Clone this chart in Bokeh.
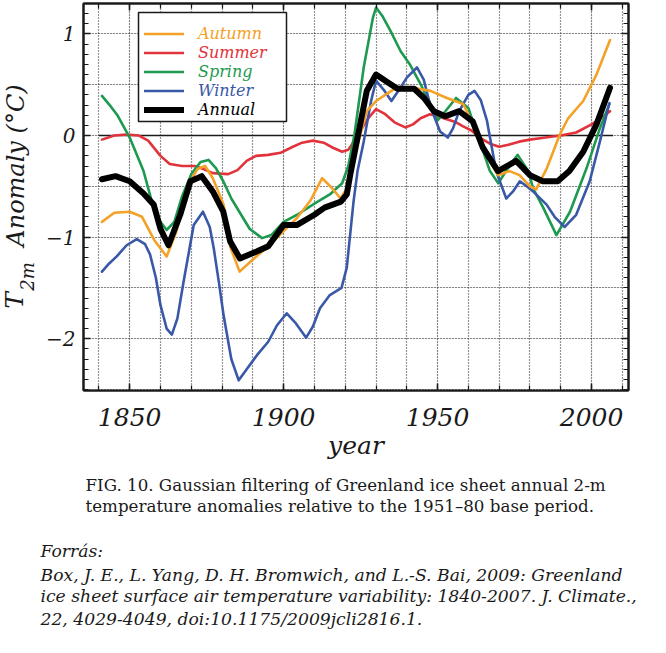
import math
from bokeh.plotting import figure
from bokeh.layouts import column, row
from bokeh.models import (SingleIntervalTicker, LinearAxis, Grid, Legend, LegendItem,
                          Range1d, CustomJSTickFormatter)
from bokeh.core.properties import value
from bokeh.embed import file_html
from bokeh.resources import INLINE

# ---------------- data ----------------
AUTUMN_YEARS = [1841, 1845, 1850, 1854, 1858, 1862, 1865, 1869.7, 1872, 1874.5, 1877,
                1880.5, 1882.7, 1885.7, 1890, 1895, 1900, 1904.4, 1908.7, 1912.5, 1915.2,
                1918.5, 1920.5, 1924, 1927, 1930, 1934, 1937, 1942, 1947.7, 1953, 1958.3,
                1962.6, 1965.8, 1969.6, 1973.4, 1976.6, 1980, 1982, 1985.5, 1989.7, 1992.4,
                1997.3, 2001.6, 2006]
AUTUMN_VALUES = [-0.85, -0.76, -0.75, -0.80, -1.03, -1.19, -0.96, -0.45, -0.33, -0.30, -0.42,
                 -0.68, -1.10, -1.34, -1.22, -1.09, -0.94, -0.81, -0.64, -0.42, -0.50,
                 -0.62, -0.52, -0.09, 0.24, 0.34, 0.42, 0.48, 0.47, 0.44, 0.37, 0.31,
                 0.04, -0.19, -0.39, -0.35, -0.39, -0.50, -0.53, -0.32, 0.01, 0.17,
                 0.34, 0.60, 0.94]

SUMMER_YEARS = [1841, 1845, 1849, 1853, 1856, 1860, 1863, 1867, 1871, 1874, 1877, 1882,
                1885, 1888, 1891, 1895, 1899, 1903, 1906, 1909.5, 1913, 1916, 1919, 1921,
                1923, 1925, 1927.5, 1930, 1933, 1936, 1939.5, 1942, 1944.5, 1947.5, 1950,
                1953, 1956, 1958.3, 1961, 1963.7, 1967, 1970, 1973, 1976.5, 1980, 1985,
                1990, 1995, 2000, 2003, 2006]
SUMMER_VALUES = [-0.04, 0.00, 0.01, 0.00, -0.05, -0.20, -0.28, -0.30, -0.30, -0.33, -0.37,
                 -0.38, -0.34, -0.25, -0.20, -0.19, -0.17, -0.11, -0.07, -0.05, -0.07,
                 -0.12, -0.16, -0.14, -0.05, 0.05, 0.17, 0.26, 0.21, 0.13, 0.08, 0.11,
                 0.17, 0.21, 0.19, 0.16, 0.13, 0.09, 0.05, -0.02, -0.08, -0.11, -0.09,
                 -0.06, -0.04, -0.02, 0.00, 0.03, 0.11, 0.17, 0.24]

SPRING_YEARS = [1841, 1843.5, 1846, 1850, 1854.5, 1857.2, 1860, 1862, 1864.5, 1867, 1870,
                1873, 1875.6, 1878, 1880.4, 1883, 1885.8, 1889, 1893, 1896, 1900, 1904.4,
                1910, 1915, 1919, 1921, 1923, 1926, 1929, 1930, 1932, 1934.7, 1938, 1941,
                1944.6, 1948, 1950, 1952, 1956, 1960, 1963.7, 1967, 1969.7, 1973.5, 1976,
                1979.5, 1981, 1984.3, 1988.6, 1993, 1998.4, 2002.7, 2005.8]
SPRING_VALUES = [0.39, 0.30, 0.20, -0.02, -0.35, -0.65, -0.85, -0.93, -0.85, -0.60, -0.38,
                 -0.26, -0.24, -0.32, -0.45, -0.62, -0.76, -0.92, -1.01, -0.98, -0.85, -0.78,
                 -0.67, -0.58, -0.47, -0.30, 0.01, 0.67, 1.16, 1.26, 1.18, 1.03, 0.83, 0.70,
                 0.50, 0.27, 0.15, 0.22, 0.37, 0.27, -0.06, -0.35, -0.47, -0.29, -0.19,
                 -0.35, -0.52, -0.71, -0.98, -0.75, -0.32, 0.07, 0.31]

WINTER_YEARS = [1841, 1843, 1845.8, 1849, 1852.3, 1855, 1856.6, 1858.5, 1860, 1862, 1863.7,
                1865.5, 1867.5, 1869.5, 1870.8, 1873.8, 1876, 1877.3, 1879, 1880.5, 1883,
                1885.4, 1888, 1891.4, 1895, 1897.8, 1901, 1904, 1907.3, 1909.5, 1911.8,
                1915, 1918.8, 1920.5, 1922.7, 1924, 1926, 1928.4, 1930, 1932.5, 1935,
                1937.5, 1940, 1943.3, 1945.5, 1947, 1949, 1950.8, 1953.3, 1955, 1957,
                1960, 1962, 1964, 1966, 1969, 1972.3, 1974.5, 1976.7, 1979, 1981, 1985.4,
                1988, 1991.3, 1995, 1999.4, 2002.7, 2005.8]
WINTER_VALUES = [-1.34, -1.27, -1.19, -1.08, -1.02, -1.07, -1.17, -1.40, -1.67, -1.90, -1.96,
                 -1.80, -1.44, -1.10, -0.88, -0.75, -0.90, -1.11, -1.45, -1.77, -2.20,
                 -2.41, -2.30, -2.16, -2.03, -1.87, -1.75, -1.85, -1.99, -1.88, -1.70,
                 -1.57, -1.50, -1.30, -0.65, -0.35, -0.06, 0.34, 0.54, 0.45, 0.34,
                 0.45, 0.57, 0.67, 0.55, 0.37, 0.18, 0.04, -0.02, 0.07, 0.24,
                 0.40, 0.44, 0.35, 0.15, -0.35, -0.62, -0.55, -0.45, -0.50, -0.55, -0.68,
                 -0.80, -0.90, -0.78, -0.45, -0.06, 0.32]

ANNUAL_YEARS = [1841, 1845.4, 1850, 1854.5, 1857.8, 1860, 1862.6, 1866.4, 1869.7, 1873.4,
                1877, 1880.4, 1882.6, 1885.8, 1891.4, 1895, 1900, 1904.4, 1910, 1913.3,
                1918.6, 1920.5, 1921.6, 1924, 1927, 1930, 1934, 1937, 1942.4, 1945.6,
                1948.8, 1952.5, 1957, 1961.4, 1964.7, 1969.6, 1975.5, 1980, 1984.2, 1989,
                1992.8, 1997.3, 2001.6, 2006]
ANNUAL_VALUES = [-0.43, -0.40, -0.45, -0.57, -0.68, -0.92, -1.08, -0.78, -0.45, -0.40,
                 -0.55, -0.75, -1.04, -1.21, -1.14, -1.09, -0.88, -0.88, -0.78, -0.71,
                 -0.65, -0.58, -0.39, -0.02, 0.44, 0.60, 0.52, 0.46, 0.46, 0.37,
                 0.24, 0.19, 0.24, 0.14, -0.12, -0.35, -0.25, -0.39, -0.45, -0.45,
                 -0.35, -0.16, 0.11, 0.47]

ZERO_LINE_YEARS = [1840, 2007]
ZERO_LINE_VALUES = [0, 0]

SERIES_NAMES = ["Autumn", "Summer", "Spring", "Winter", "Annual"]
COLORS = {"Autumn": "#F4A128", "Summer": "#E2333C", "Spring": "#1E9A50",
          "Winter": "#3A58A8", "Annual": "#000000"}

X_LABEL = "year"
Y_LABEL_MAIN = "T"
Y_LABEL_SUB = "2m"
Y_LABEL_REST = "Anomaly (\u00b0C)"

CAPTION_LINES = ["FIG. 10. Gaussian filtering of Greenland ice sheet annual 2-m",
                 "temperature anomalies relative to the 1951\u201380 base period."]
SOURCE_LINES = ["Forr\u00e1s:",
                "Box, J. E., L. Yang, D. H. Bromwich, and L.-S. Bai, 2009: Greenland",
                "ice sheet surface air temperature variability: 1840-2007. J. Climate.,",
                "22, 4029-4049, doi:10.1175/2009jcli2816.1."]

# ---------------- layout constants (pixels) ----------------
PAGE_W, PAGE_H = 666, 653
YLAB_W = 40                     # strip left of the plot holding the y title
FRAME_L, FRAME_T, FW, FH = 83, 3, 545, 387
BOTTOM_B = 80
TOP_H = FRAME_T + FH + BOTTOM_B
X0, X1, Y0, Y1 = 1835, 2012, -2.51, 1.30
FONT = "DejaVu Serif"
INK = "#1a1a1a"


def helper_fig(w, h, xr, yr, **kw):
    f = figure(width=w, height=h, x_range=Range1d(*xr), y_range=Range1d(*yr),
               output_backend="svg", toolbar_location=None, title=None,
               x_axis_location=None, y_axis_location=None, **kw)
    f.outline_line_color = None
    f.grid.visible = False
    f.background_fill_color = "white"
    f.border_fill_color = "white"
    return f


# ---------------- main plot ----------------
p = figure(width=PAGE_W - YLAB_W, height=TOP_H,
           x_range=Range1d(X0, X1), y_range=Range1d(Y0, Y1),
           output_backend="svg", toolbar_location=None,
           x_axis_location=None, y_axis_location=None,
           min_border_left=FRAME_L - YLAB_W, min_border_top=FRAME_T,
           min_border_right=PAGE_W - FRAME_L - FW, min_border_bottom=BOTTOM_B)
p.outline_line_color = INK
p.outline_line_width = 2
p.background_fill_color = "white"
p.border_fill_color = "white"

p.add_layout(Grid(dimension=0, ticker=SingleIntervalTicker(interval=10),
                  grid_line_color="#2a2a2a", grid_line_dash="1 2", grid_line_width=1.2))
p.add_layout(Grid(dimension=1, ticker=SingleIntervalTicker(interval=0.5),
                  grid_line_color="#2a2a2a", grid_line_dash="1 2", grid_line_width=1.2))

minus_fmt = CustomJSTickFormatter(code="return tick < 0 ? '\u2212' + Math.abs(tick) : String(tick);")
blank_fmt = CustomJSTickFormatter(code="return '';")


def style_axis(ax, size=None):
    ax.axis_line_color = INK
    ax.axis_line_width = 2
    ax.major_tick_in = 7
    ax.major_tick_out = 0
    ax.minor_tick_in = 5
    ax.minor_tick_out = 0
    ax.major_tick_line_color = INK
    ax.minor_tick_line_color = INK
    ax.major_tick_line_width = 1.5
    ax.minor_tick_line_width = 1.2
    if size:
        ax.major_label_text_font = FONT
        ax.major_label_text_font_style = "italic"
        ax.major_label_text_font_size = size
        ax.major_label_text_color = INK
    else:
        ax.formatter = blank_fmt
        ax.major_label_standoff = 0


bottom = LinearAxis(ticker=SingleIntervalTicker(interval=50, num_minor_ticks=5),
                    axis_label=X_LABEL)
style_axis(bottom, "25px")
bottom.major_label_standoff = 17
bottom.axis_label_text_font = FONT
bottom.axis_label_text_font_style = "italic"
bottom.axis_label_text_font_size = "25px"
bottom.axis_label_text_color = INK
bottom.axis_label_standoff = 2
p.add_layout(bottom, "below")

top = LinearAxis(ticker=SingleIntervalTicker(interval=50, num_minor_ticks=5))
style_axis(top)
p.add_layout(top, "above")

left = LinearAxis(ticker=SingleIntervalTicker(interval=1, num_minor_ticks=10), formatter=minus_fmt)
style_axis(left, "20px")
left.major_label_standoff = 8
p.add_layout(left, "left")

right = LinearAxis(ticker=SingleIntervalTicker(interval=1, num_minor_ticks=10))
style_axis(right)
p.add_layout(right, "right")

p.line(ZERO_LINE_YEARS, ZERO_LINE_VALUES, line_color=INK, line_width=1.6)

renderers = {}
data = {"Summer": (SUMMER_YEARS, SUMMER_VALUES),
        "Spring": (SPRING_YEARS, SPRING_VALUES),
        "Winter": (WINTER_YEARS, WINTER_VALUES),
        "Autumn": (AUTUMN_YEARS, AUTUMN_VALUES),
        "Annual": (ANNUAL_YEARS, ANNUAL_VALUES)}
for name, (xs, ys) in data.items():
    w = 6 if name == "Annual" else 2.6
    renderers[name] = p.line(xs, ys, line_color=COLORS[name], line_width=w,
                             line_join="round", line_cap="round")


# legend frame: a white box (pixel layout converted to the plot's data space)
def sx_to_x(px):
    return X0 + (px - FRAME_L) * (X1 - X0) / FW


def sy_to_y(py):
    return Y1 - (py - FRAME_T) * (Y1 - Y0) / FH


BOX_L, BOX_R, BOX_T, BOX_B = 138, 286, 12, 121
p.quad(left=[sx_to_x(BOX_L)], right=[sx_to_x(BOX_R)], top=[sy_to_y(BOX_T)],
       bottom=[sy_to_y(BOX_B)], fill_color="white", line_color=INK, line_width=1.5)

# one single-row legend per series so each label keeps its own colour
ROW_CENTERS = [33.3, 52.3, 71.3, 90.3, 109.8]
PAD, ROW_H, GLYPH_X = 2, 19, 144
for nm, cy in zip(SERIES_NAMES, ROW_CENTERS):
    lg = Legend(items=[LegendItem(label=nm, renderers=[renderers[nm]])],
                location=(GLYPH_X - FRAME_L - PAD, FH - (cy - FRAME_T) - PAD - ROW_H / 2),
                padding=PAD, spacing=0, glyph_height=ROW_H, label_height=ROW_H,
                glyph_width=40, label_standoff=14, margin=0,
                label_text_font=FONT, label_text_font_style="italic",
                label_text_font_size="16px", label_text_color=COLORS[nm],
                border_line_alpha=0, background_fill_alpha=0)
    p.add_layout(lg, "center")

# ---------------- y-axis title strip (same top/bottom borders as the plot) ----------------
# data coordinates of the strip are page pixels: x to the right, y = -page_y
ylab = helper_fig(YLAB_W, TOP_H, (0, YLAB_W), (-(FRAME_T + FH), -FRAME_T),
                  min_border_left=0, min_border_right=0,
                  min_border_top=FRAME_T, min_border_bottom=BOTTOM_B)
ylab.text(x=[15, 14, 27], y=[-165, -300, -276],
          text=[Y_LABEL_REST, Y_LABEL_MAIN, Y_LABEL_SUB],
          angle=math.pi / 2, text_align="center", text_baseline="middle",
          text_font=value(FONT), text_font_style="italic",
          text_font_size=["24px", "25px", "18px"], text_color=INK)

# ---------------- caption and source (y = -page_y of each line's middle) ----------------
CAP_H = PAGE_H - TOP_H
cap = helper_fig(PAGE_W, CAP_H, (0, PAGE_W), (-PAGE_H, -TOP_H), min_border=0)
cap.text(x=[85, 85], y=[-484.2, -505.9], text=CAPTION_LINES,
         text_align="left", text_baseline="middle", text_font=value(FONT),
         text_font_size="16.7px", text_color=INK)
cap.text(x=[40, 40, 40, 40], y=[-550.7, -574.0, -595.7, -618.3],
         text=SOURCE_LINES, text_align="left", text_baseline="middle",
         text_font=value(FONT), text_font_style="italic", text_font_size="17.2px",
         text_color=INK)

layout = column(row(ylab, p, spacing=0), cap, spacing=0)
open("out.html", "w").write(file_html(layout, INLINE))
